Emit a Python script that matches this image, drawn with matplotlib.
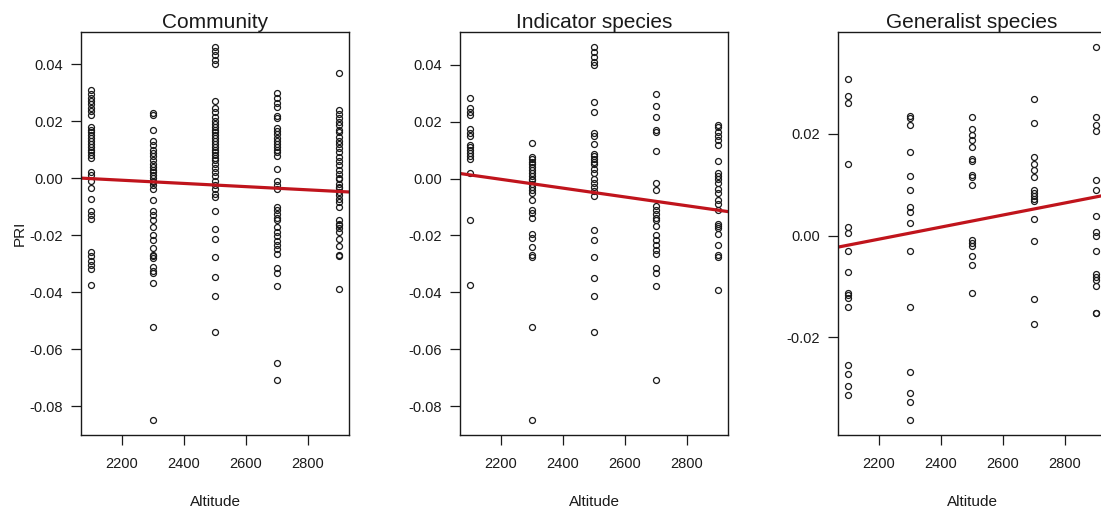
import numpy as np
import matplotlib.pyplot as plt

plt.rcParams['font.family'] = ['Liberation Sans', 'DejaVu Sans']
plt.rcParams['axes.unicode_minus'] = False

# altitudes sampled (m)
altitudes = [2100, 2300, 2500, 2700, 2900]

# PRI values, one list per altitude
community = [
    [0.031, 0.0295, 0.028, 0.027, 0.026, 0.0245, 0.0235, 0.022, 0.018, 0.017, 0.016,
     0.015, 0.014, 0.013, 0.012, 0.011, 0.010, 0.009, 0.008, 0.007, 0.002, 0.001,
     -0.001, -0.0035, -0.0075, -0.0115, -0.013, -0.0145, -0.026, -0.0275, -0.029,
     -0.0305, -0.032, -0.0375],
    [0.0228, 0.0222, 0.0167, 0.0129, 0.0115, 0.010, 0.0088, 0.0076, 0.0064, 0.005,
     0.004, 0.003, 0.002, 0.001, 0.0, -0.001, -0.0015, -0.0023, -0.004, -0.0076,
     -0.0117, -0.013, -0.0147, -0.017, -0.020, -0.0217, -0.0246, -0.0275, -0.027,
     -0.028, -0.0312, -0.0326, -0.0333, -0.0368, -0.0523, -0.0849],
    [0.046, 0.0445, 0.043, 0.0415, 0.040, 0.027, 0.0246, 0.023, 0.0215, 0.020, 0.019,
     0.018, 0.017, 0.016, 0.015, 0.014, 0.013, 0.012, 0.011, 0.010, 0.009, 0.008,
     0.007, 0.0064, 0.005, 0.0035, 0.002, 0.0006, -0.001, -0.0025, -0.004, -0.0055,
     -0.0065, -0.0114, -0.018, -0.0215, -0.0278, -0.0348, -0.0414, -0.0539],
    [0.0299, 0.0281, 0.0264, 0.025, 0.0217, 0.0211, 0.0176, 0.0165, 0.0155, 0.014,
     0.013, 0.012, 0.011, 0.010, 0.009, 0.0076, 0.0032, -0.0012, -0.0023, -0.004,
     -0.010, -0.0112, -0.0125, -0.014, -0.0147, -0.017, -0.019, -0.0205, -0.022,
     -0.0235, -0.025, -0.0265, -0.0316, -0.0333, -0.0379, -0.0648, -0.0709],
    [0.0369, 0.024, 0.0225, 0.021, 0.0195, 0.0185, 0.017, 0.016, 0.0145, 0.013, 0.012,
     0.0105, 0.009, 0.0075, 0.006, 0.0045, 0.003, 0.0015, 0.0, -0.0005, -0.002, -0.003,
     -0.0035, -0.005, -0.006, -0.0075, -0.0085, -0.010, -0.0147, -0.016, -0.0165,
     -0.0175, -0.019, -0.0215, -0.024, -0.0275, -0.027, -0.039],
]

indicator = [
    [0.0282, 0.025, 0.0235, 0.0223, 0.0176, 0.016, 0.015, 0.0117, 0.011, 0.010, 0.009,
     0.008, 0.007, 0.0021, -0.0144, -0.0374],
    [0.0126, 0.0076, 0.007, 0.006, 0.005, 0.004, 0.003, 0.002, 0.001, 0.0, -0.0005,
     -0.002, -0.003, -0.004, -0.005, -0.0076, -0.011, -0.012, -0.014, -0.0194, -0.021,
     -0.024, -0.027, -0.0276, -0.0523, -0.0849],
    [0.0463, 0.0446, 0.0428, 0.041, 0.040, 0.027, 0.0235, 0.016, 0.015, 0.0123, 0.0088,
     0.008, 0.007, 0.006, 0.005, 0.0035, 0.002, 0.0, -0.0015, -0.003, -0.0045, -0.006,
     -0.018, -0.0215, -0.0276, -0.0348, -0.0414, -0.0539],
    [0.0296, 0.0255, 0.0217, 0.017, 0.0164, 0.0096, -0.0015, -0.004, -0.0096, -0.011,
     -0.0125, -0.014, -0.0147, -0.0165, -0.020, -0.0217, -0.0235, -0.025, -0.0265,
     -0.0316, -0.0333, -0.0379, -0.0709],
    [0.019, 0.018, 0.0165, 0.015, 0.0135, 0.0117, 0.0061, 0.0018, 0.001, 0.0, -0.0015,
     -0.0035, -0.005, -0.0075, -0.0088, -0.011, -0.0158, -0.0165, -0.0175, -0.0195,
     -0.0235, -0.027, -0.0275, -0.039],
]

generalist = [
    [0.0308, 0.0275, 0.026, 0.0141, 0.0017, 0.0005, -0.0031, -0.0072, -0.0113, -0.0117,
     -0.0122, -0.014, -0.0255, -0.0272, -0.0296, -0.0314],
    [0.0235, 0.0231, 0.0218, 0.0165, 0.0118, 0.009, 0.0056, 0.0046, 0.0025, -0.0031,
     -0.014, -0.0268, -0.0309, -0.0327, -0.0363],
    [0.0233, 0.0209, 0.0198, 0.0187, 0.0175, 0.015, 0.0146, 0.012, 0.0115, 0.010,
     -0.0008, -0.0015, -0.0021, -0.0041, -0.0057, -0.0113],
    [0.0269, 0.0222, 0.0154, 0.0141, 0.0129, 0.0116, 0.009, 0.0083, 0.0077, 0.0071,
     0.0067, 0.0033, -0.0011, -0.0125, -0.0174],
    [0.0371, 0.0233, 0.0218, 0.0205, 0.011, 0.0089, 0.0038, 0.0007, 0.0, -0.0031,
     -0.0075, -0.0081, -0.0087, -0.0099, -0.0153, -0.0153],
]

# fitted line read at the first and last altitude
fit_ends = {
    "Community": [-0.0002, -0.0047],
    "Indicator species": [0.0013, -0.0111],
    "Generalist species": [-0.0019, 0.0076],
}

x_ticks = [2200, 2400, 2600, 2800]
y_ticks = {
    "Community": [-0.08, -0.06, -0.04, -0.02, 0.00, 0.02, 0.04],
    "Indicator species": [-0.08, -0.06, -0.04, -0.02, 0.00, 0.02, 0.04],
    "Generalist species": [-0.02, 0.00, 0.02],
}

panels = [("Community", community), ("Indicator species", indicator),
          ("Generalist species", generalist)]


def r_limits(values):
    """R style axis range: data range padded by 4% on each side"""
    lo, hi = min(values), max(values)
    pad = (hi - lo) * 0.04
    return lo - pad, hi + pad


fig = plt.figure(figsize=(11.01, 5.08), dpi=100)
lefts = [81 / 1101, 460 / 1101, 838 / 1101]
ink = "#1a1a1a"

for i, (title, groups) in enumerate(panels):
    ax = fig.add_axes([lefts[i], 73 / 508, 268 / 1101, 403 / 508])
    xs = np.concatenate([[a] * len(g) for a, g in zip(altitudes, groups)])
    ys = np.concatenate(groups)
    ax.plot(xs, ys, 'o', mfc='none', mec=ink, ms=4.3, mew=0.9)
    ends = fit_ends[title]
    ax.axline((altitudes[0], ends[0]), (altitudes[-1], ends[1]), color="#c0141c", lw=2.3)
    ax.set_xlim(r_limits(xs))
    ax.set_ylim(r_limits(ys))
    ax.set_xticks(x_ticks)
    ax.set_yticks(y_ticks[title])
    ax.set_yticklabels(["%.2f" % v for v in y_ticks[title]])
    ax.tick_params(length=7, width=0.9, pad=6, labelsize=10.5, colors=ink)
    ax.tick_params(axis='x', pad=9)
    for s in ax.spines.values():
        s.set_linewidth(1.0)
        s.set_color(ink)
    ax.set_title(title, fontsize=15, pad=2, color=ink)
    ax.set_xlabel("Altitude", fontsize=11, labelpad=17, color=ink)
    if i == 0:
        ax.set_ylabel("PRI", fontsize=11, labelpad=2, color=ink)

fig.savefig("out.png", dpi=100)
